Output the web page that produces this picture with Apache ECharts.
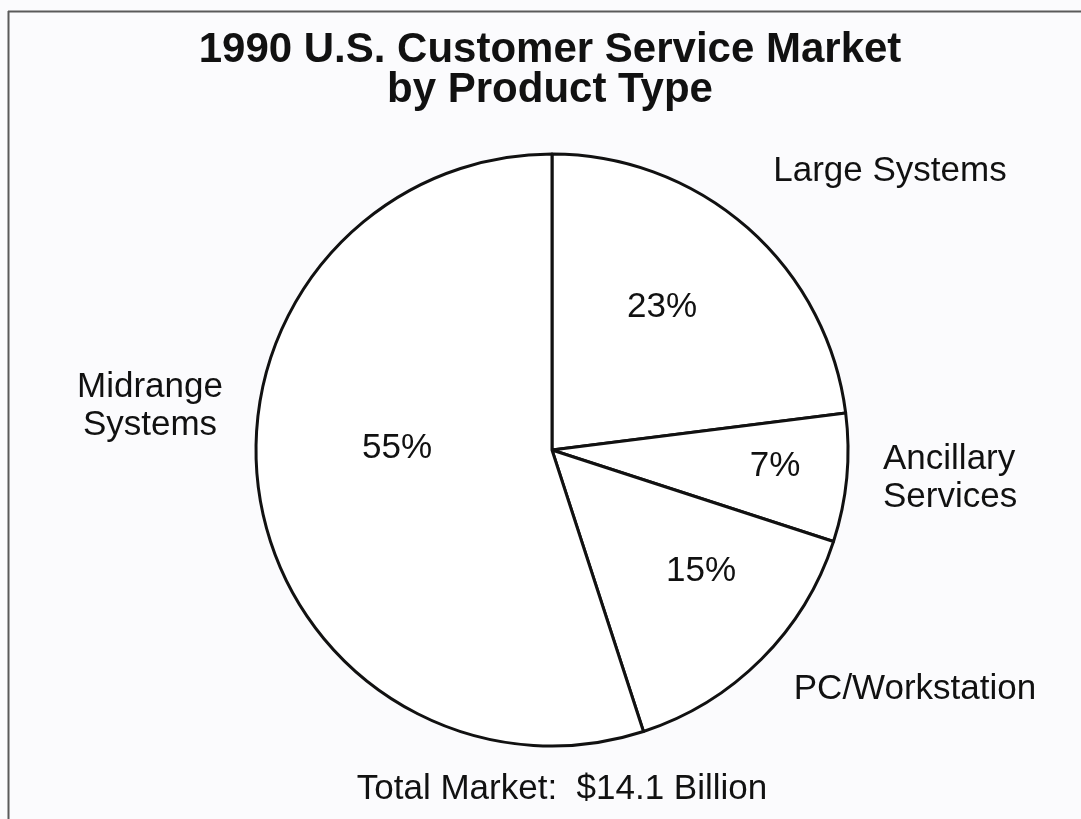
<!DOCTYPE html>
<html>
<head>
<meta charset="utf-8">
<script src="https://cdn.jsdelivr.net/npm/echarts@6/dist/echarts.min.js"></script>
<style>
html, body { margin: 0; padding: 0; background: #fbfbfd; }
#chart { width: 1081px; height: 819px; }
</style>
</head>
<body>
<div id="chart"></div>
<script>
// slices clockwise from 12 o'clock
var categories = ['Large Systems', 'Ancillary Services', 'PC/Workstation', 'Midrange Systems'];
var shares = [23, 7, 15, 55];
var nameLabels = ['Large Systems', 'Ancillary\nServices', 'PC/Workstation', 'Midrange\nSystems'];

// label placement (px)
var pctPos = [[662, 307], [775, 466], [701, 571], [397, 448]];
var namePos = [[890, 171], [883, 478], [915, 689], [150, 406]];
var nameAlign = ['center', 'left', 'center', 'center'];

var font = '"Liberation Sans", Arial, Helvetica, sans-serif';
var pieData = categories.map(function (c, i) {
    return { name: c, value: shares[i] };
});

var myChart = echarts.init(document.getElementById('chart'));
var option = {
    backgroundColor: '#fbfbfd',
    animation: false,
    graphic: [
        { type: 'line', shape: { x1: 8, y1: 11.5, x2: 1081, y2: 11.5 }, style: { stroke: '#5a5a5a', lineWidth: 2 } },
        { type: 'line', shape: { x1: 8.5, y1: 11, x2: 8.5, y2: 819 }, style: { stroke: '#5a5a5a', lineWidth: 2 } },
        {
            type: 'text', x: 550, y: 30,
            style: {
                text: '1990 U.S. Customer Service Market\nby Product Type',
                font: 'bold 42px ' + font, fill: '#111',
                align: 'center', verticalAlign: 'top', lineHeight: 40
            }
        },
        {
            type: 'text', x: 562, y: 789,
            style: {
                text: 'Total Market:  $14.1 Billion',
                font: '35px ' + font, fill: '#111',
                align: 'center', verticalAlign: 'middle'
            }
        }
    ],
    series: [{
        type: 'pie',
        center: [552, 450],
        radius: 296,
        startAngle: 90,
        clockwise: true,
        silent: true,
        avoidLabelOverlap: false,
        itemStyle: { color: '#ffffff', borderColor: '#111', borderWidth: 3, borderJoin: 'round' },
        label: {
            show: true,
            position: 'inside',
            formatter: function (p) { return shares[p.dataIndex] + '%'; },
            fontSize: 35, fontFamily: font, color: '#111'
        },
        labelLine: { show: false },
        labelLayout: function (p) {
            return { x: pctPos[p.dataIndex][0], y: pctPos[p.dataIndex][1], align: 'center', verticalAlign: 'middle' };
        },
        data: pieData
    }, {
        type: 'pie',
        center: [552, 450],
        radius: 296,
        startAngle: 90,
        clockwise: true,
        silent: true,
        avoidLabelOverlap: false,
        itemStyle: { color: 'rgba(0,0,0,0)', borderWidth: 0 },
        label: {
            show: true,
            position: 'outside',
            formatter: function (p) { return nameLabels[p.dataIndex]; },
            fontSize: 35, fontFamily: font, color: '#111', lineHeight: 38
        },
        labelLine: { show: false },
        labelLayout: function (p) {
            var i = p.dataIndex;
            return { x: namePos[i][0], y: namePos[i][1], align: nameAlign[i], verticalAlign: 'middle' };
        },
        data: pieData
    }]
};
myChart.setOption(option);
</script>
</body>
</html>
